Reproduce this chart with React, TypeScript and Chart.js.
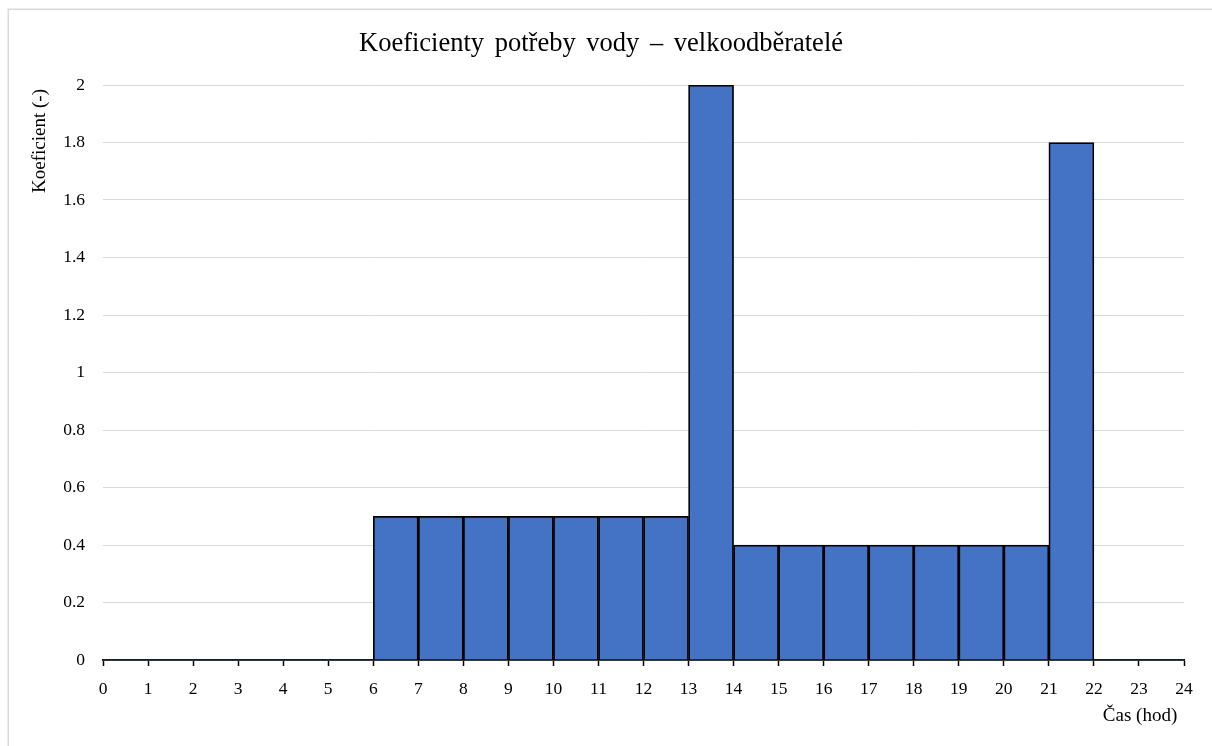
import React, { useEffect, useRef } from "react";
import { Chart, registerables } from "chart.js";

Chart.register(...registerables);

const chartTitle = "Koeficienty potřeby vody – velkoodběratelé";
const yAxisTitle = "Koeficient (-)";
const xAxisTitle = "Čas (hod)";
const hourStarts = [0, 1, 2, 3, 4, 5, 6, 7, 8, 9, 10, 11, 12, 13, 14, 15, 16, 17, 18, 19, 20, 21, 22, 23];
const coefficients = [0, 0, 0, 0, 0, 0, 0.5, 0.5, 0.5, 0.5, 0.5, 0.5, 0.5, 2, 0.4, 0.4, 0.4, 0.4, 0.4, 0.4, 0.4, 1.8, 0, 0];
const xMin = 0;
const xMax = 24;
const yMin = 0;
const yMax = 2;
const yStep = 0.2;

const SERIF = "'Liberation Serif', 'Times New Roman', serif";

export default function App() {
  const canvasRef = useRef<HTMLCanvasElement | null>(null);

  useEffect(() => {
    const canvas = canvasRef.current;
    if (!canvas) return;

    const setWS = (ctx: any, v: string) => {
      try {
        ctx.wordSpacing = v;
      } catch (e) {}
    };

    const decor = {
      id: "decor",
      beforeDraw(chart: any) {
        const ctx = chart.ctx;
        ctx.save();
        ctx.fillStyle = "#ffffff";
        ctx.fillRect(0, 0, chart.width, chart.height);
        ctx.strokeStyle = "#d9d9d9";
        ctx.lineWidth = 1.5;
        ctx.beginPath();
        ctx.moveTo(8.25, chart.height);
        ctx.lineTo(8.25, 9.25);
        ctx.lineTo(chart.width, 9.25);
        ctx.stroke();
        ctx.restore();
      },
      afterDraw(chart: any) {
        const ctx = chart.ctx;
        ctx.save();
        ctx.fillStyle = "#000000";
        ctx.textBaseline = "middle";
        ctx.textAlign = "center";
        ctx.font = `26.5px ${SERIF}`;
        setWS(ctx, "4px");
        ctx.fillText(chartTitle, 601, 44);
        setWS(ctx, "0px");
        ctx.font = `19px ${SERIF}`;
        ctx.fillText(xAxisTitle, 1140, 716);
        ctx.translate(40, 141);
        ctx.rotate(-Math.PI / 2);
        ctx.fillText(yAxisTitle, 0, 0);
        ctx.restore();
      },
    };

    const chart = new Chart(canvas, {
      type: "bar",
      data: {
        datasets: [
          {
            data: hourStarts.map((h, i) => ({ x: h + 0.5, y: coefficients[i] })),
            backgroundColor: "#4472C4",
            borderColor: "#000000",
            borderWidth: (c: any) => (c.raw && c.raw.y === 0 ? 0 : 1.75),
            barPercentage: 1,
            categoryPercentage: 1,
          },
        ],
      },
      options: {
        animation: false,
        responsive: false,
        devicePixelRatio: 1,
        layout: { padding: { left: 0, top: 85, right: 28, bottom: 0 } },
        plugins: {
          legend: { display: false },
          title: { display: false },
          tooltip: { enabled: false },
        },
        scales: {
          x: {
            type: "linear",
            min: xMin,
            max: xMax,
            offset: false,
            grid: {
              offset: false,
              drawOnChartArea: false,
              drawTicks: true,
              tickLength: 6,
              tickWidth: 1.5,
              tickColor: "#000000",
            },
            border: { display: true, color: "#000000", width: 1.75 },
            ticks: {
              stepSize: 1,
              autoSkip: false,
              maxRotation: 0,
              padding: 13,
              color: "#000000",
              font: { family: SERIF, size: 17.5 },
              callback: (v: any) => String(v),
            },
            afterFit: (s: any) => {
              s.height = 86;
            },
          },
          y: {
            type: "linear",
            min: yMin,
            max: yMax,
            grid: { color: "#d9d9d9", lineWidth: 1, drawTicks: false },
            border: { display: false },
            ticks: {
              stepSize: yStep,
              padding: 18,
              color: "#000000",
              font: { family: SERIF, size: 17.5 },
              callback: (v: any) => String(Math.round(Number(v) * 10) / 10),
            },
            afterFit: (s: any) => {
              s.width = 103;
            },
          },
        },
      },
      plugins: [decor],
    } as any);

    return () => chart.destroy();
  }, []);

  return (
    <div style={{ position: "absolute", left: 0, top: 0, width: 1212, height: 746 }}>
      <canvas ref={canvasRef} width={1212} height={746} style={{ display: "block" }} />
    </div>
  );
}
